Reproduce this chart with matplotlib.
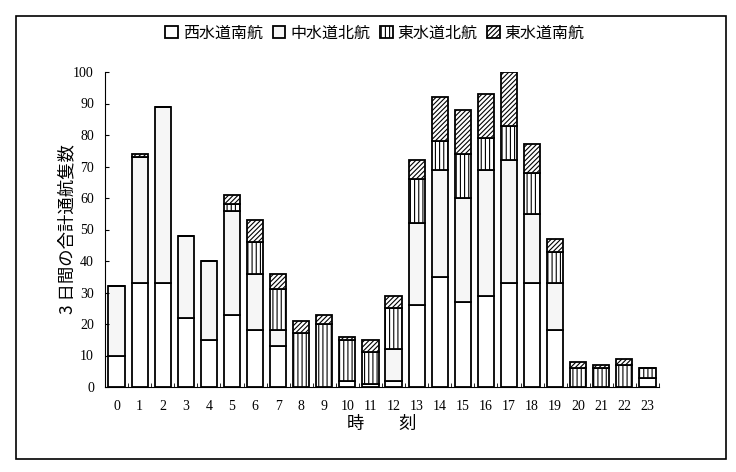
"""
Stacked bar chart of vessel passages per hour (3-day total), by route.
"""
import matplotlib
matplotlib.use("Agg")
import matplotlib.pyplot as plt
from matplotlib.patches import Rectangle
import numpy as np

hours = list(range(24))
hour_labels = [str(h) for h in hours]

series_names = ["西水道南航", "中水道北航", "東水道北航", "東水道南航"]
west_south = [10, 33, 33, 22, 15, 23, 18, 13, 0, 0, 2, 1, 2, 26, 35, 27, 29, 33, 33, 18, 0, 0, 0, 3]
center_north = [22, 40, 56, 26, 25, 33, 18, 5, 0, 0, 0, 0, 10, 26, 34, 33, 40, 39, 22, 15, 0, 0, 0, 0]
east_north = [0, 0, 0, 0, 0, 2, 10, 13, 17, 20, 13, 10, 13, 14, 9, 14, 10, 11, 13, 10, 6, 6, 7, 3]
east_south = [0, 1, 0, 0, 0, 3, 7, 5, 4, 3, 1, 4, 4, 6, 14, 14, 14, 17, 9, 4, 2, 1, 2, 0]

CJK = ["Noto Sans CJK JP", "DejaVu Sans"]
SERIF = ["Liberation Serif", "DejaVu Serif"]

plt.rcParams["hatch.linewidth"] = 0.8

fig = plt.figure(figsize=(7.36, 4.72), dpi=100)
fig.patches.append(Rectangle((16 / 736, 13 / 472), 710 / 736, 443 / 472,
                             transform=fig.transFigure, fill=False,
                             edgecolor="black", linewidth=1.2))

ax = fig.add_axes([105 / 736, 85 / 472, 554 / 736, 315 / 472])

x = np.arange(len(hours))
styles = [
    dict(color="white", hatch=None),
    dict(color="#f6f6f6", hatch=None),
    dict(color="white", hatch="||||"),
    dict(color="white", hatch="///////"),
]
bottom = np.zeros(len(hours))
for name, vals, st in zip(series_names, [west_south, center_north, east_north, east_south], styles):
    vals = np.array(vals, dtype=float)
    ax.bar(x, vals, width=0.7, bottom=bottom, color=st["color"], hatch=st["hatch"],
           edgecolor="black", linewidth=1.3, label=name)
    bottom += vals

ax.set_xlim(-0.5, 23.5)
ax.set_ylim(0, 100)
ax.set_yticks(range(0, 101, 10))
ax.set_xticks(x)
ax.set_xticklabels(hour_labels)
ax.set_xticks(np.arange(-0.5, 24, 1), minor=True)
ax.tick_params(axis="x", which="major", length=0, pad=9)
ax.tick_params(axis="x", which="minor", direction="in", length=3)
ax.tick_params(axis="y", direction="in", length=3, pad=8)
for lab in ax.get_xticklabels() + ax.get_yticklabels():
    lab.set_fontfamily(SERIF)
    lab.set_fontsize(10)
for s in ["top", "right"]:
    ax.spines[s].set_visible(False)

ax.set_ylabel("3 日間の合計通航隻数", family=CJK, fontsize=12.5)
ax.yaxis.set_label_coords(-0.052, 0.5)
ax.set_xlabel("時　　刻", family=CJK, fontsize=12.5, labelpad=2)

leg = fig.legend(loc="center", bbox_to_anchor=(375 / 736, 1 - 33 / 472), ncol=4,
                 frameon=False, prop={"family": CJK, "size": 11.5},
                 handlelength=0.8, handleheight=0.8, handletextpad=0.3,
                 columnspacing=0.6)

plt.savefig("out.png", dpi=100)
